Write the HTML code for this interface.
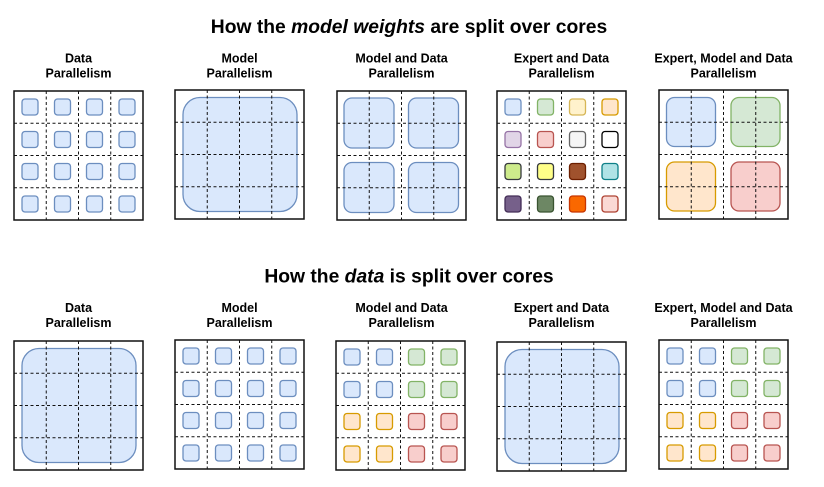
<!DOCTYPE html>
<html><head><meta charset="utf-8"><style>
html,body{margin:0;padding:0;background:#fff;}
svg{display:block;}
text{font-family:"Liberation Sans",Arial,sans-serif;font-weight:bold;fill:#000;}
</style></head><body>
<svg width="824" height="487" viewBox="0 0 824 487" xmlns="http://www.w3.org/2000/svg">
<defs>
<g id="grid">
<g stroke="#111" stroke-width="1" stroke-dasharray="3,2.5" fill="none">
<line x1="32.25" y1="0" x2="32.25" y2="129"/><line x1="64.5" y1="0" x2="64.5" y2="129"/><line x1="96.75" y1="0" x2="96.75" y2="129"/>
<line x1="0" y1="32.25" x2="129" y2="32.25"/><line x1="0" y1="64.5" x2="129" y2="64.5"/><line x1="0" y1="96.75" x2="129" y2="96.75"/>
</g>
<rect x="0" y="0" width="129" height="129" fill="none" stroke="#111" stroke-width="1.5"/>
</g>
<g id="big"><rect x="8" y="7.5" width="114" height="114" rx="17" fill="#dae8fc" stroke="#6c8ebf" stroke-width="1.3"/></g>
<rect id="sq" width="16" height="16" rx="3"/>
<g id="blue16" fill="#dae8fc" stroke="#6c8ebf" stroke-width="1.3">
<use href="#sq" x="8" y="8"/><use href="#sq" x="40.5" y="8"/><use href="#sq" x="72.5" y="8"/><use href="#sq" x="105" y="8"/>
<use href="#sq" x="8" y="40.5"/><use href="#sq" x="40.5" y="40.5"/><use href="#sq" x="72.5" y="40.5"/><use href="#sq" x="105" y="40.5"/>
<use href="#sq" x="8" y="72.5"/><use href="#sq" x="40.5" y="72.5"/><use href="#sq" x="72.5" y="72.5"/><use href="#sq" x="105" y="72.5"/>
<use href="#sq" x="8" y="105"/><use href="#sq" x="40.5" y="105"/><use href="#sq" x="72.5" y="105"/><use href="#sq" x="105" y="105"/>
</g>
<g id="quad16" stroke-width="1.3">
<g fill="#dae8fc" stroke="#6c8ebf"><use href="#sq" x="8" y="8"/><use href="#sq" x="40.5" y="8"/><use href="#sq" x="8" y="40.5"/><use href="#sq" x="40.5" y="40.5"/></g>
<g fill="#d5e8d4" stroke="#82b366"><use href="#sq" x="72.5" y="8"/><use href="#sq" x="105" y="8"/><use href="#sq" x="72.5" y="40.5"/><use href="#sq" x="105" y="40.5"/></g>
<g fill="#ffe6cc" stroke="#d79b00"><use href="#sq" x="8" y="72.5"/><use href="#sq" x="40.5" y="72.5"/><use href="#sq" x="8" y="105"/><use href="#sq" x="40.5" y="105"/></g>
<g fill="#f8cecc" stroke="#b85450"><use href="#sq" x="72.5" y="72.5"/><use href="#sq" x="105" y="72.5"/><use href="#sq" x="72.5" y="105"/><use href="#sq" x="105" y="105"/></g>
</g>
</defs>

<text x="409" y="33" font-size="19.3" text-anchor="middle">How the <tspan font-style="italic">model weights</tspan> are split over cores</text>
<text x="409" y="282.5" font-size="19.3" text-anchor="middle">How the <tspan font-style="italic">data</tspan> is split over cores</text>

<g font-size="12.5" text-anchor="middle">
<text x="78.5" y="62.5">Data</text><text x="78.5" y="77.5">Parallelism</text>
<text x="239.5" y="62.5">Model</text><text x="239.5" y="77.5">Parallelism</text>
<text x="401.5" y="62.5">Model and Data</text><text x="401.5" y="77.5">Parallelism</text>
<text x="561.5" y="62.5">Expert and Data</text><text x="561.5" y="77.5">Parallelism</text>
<text x="723.5" y="62.5">Expert, Model and Data</text><text x="723.5" y="77.5">Parallelism</text>

<text x="78.5" y="312">Data</text><text x="78.5" y="327">Parallelism</text>
<text x="239.5" y="312">Model</text><text x="239.5" y="327">Parallelism</text>
<text x="401.5" y="312">Model and Data</text><text x="401.5" y="327">Parallelism</text>
<text x="561.5" y="312">Expert and Data</text><text x="561.5" y="327">Parallelism</text>
<text x="723.5" y="312">Expert, Model and Data</text><text x="723.5" y="327">Parallelism</text>
</g>

<!-- Top row -->
<g transform="translate(14,91)"><use href="#blue16"/><use href="#grid"/></g>
<g transform="translate(175,90)"><use href="#big"/><use href="#grid"/></g>
<g transform="translate(337,91)">
<g fill="#dae8fc" stroke="#6c8ebf" stroke-width="1.3">
<rect x="7" y="7" width="50" height="50" rx="8"/><rect x="71.5" y="7" width="50" height="50" rx="8"/>
<rect x="7" y="71.5" width="50" height="50" rx="8"/><rect x="71.5" y="71.5" width="50" height="50" rx="8"/>
</g>
<use href="#grid"/></g>
<g transform="translate(497,91)">
<g stroke-width="1.3">
<use href="#sq" x="8" y="8" fill="#dae8fc" stroke="#6c8ebf"/>
<use href="#sq" x="40.5" y="8" fill="#d5e8d4" stroke="#82b366"/>
<use href="#sq" x="72.5" y="8" fill="#fff2cc" stroke="#d6b656"/>
<use href="#sq" x="105" y="8" fill="#ffe6cc" stroke="#d79b00"/>
<use href="#sq" x="8" y="40.5" fill="#e1d5e7" stroke="#9673a6"/>
<use href="#sq" x="40.5" y="40.5" fill="#f8cecc" stroke="#b85450"/>
<use href="#sq" x="72.5" y="40.5" fill="#f5f5f5" stroke="#666666"/>
<use href="#sq" x="105" y="40.5" fill="#ffffff" stroke="#000000"/>
<use href="#sq" x="8" y="72.5" fill="#cdeb8b" stroke="#36393d"/>
<use href="#sq" x="40.5" y="72.5" fill="#ffff88" stroke="#36393d"/>
<use href="#sq" x="72.5" y="72.5" fill="#a0522d" stroke="#6d1f00"/>
<use href="#sq" x="105" y="72.5" fill="#b0e3e6" stroke="#0e8088"/>
<use href="#sq" x="8" y="105" fill="#76608a" stroke="#432d57"/>
<use href="#sq" x="40.5" y="105" fill="#6d8764" stroke="#3a5431"/>
<use href="#sq" x="72.5" y="105" fill="#fa6800" stroke="#c73500"/>
<use href="#sq" x="105" y="105" fill="#fad9d5" stroke="#ae4132"/>
</g>
<use href="#grid"/></g>
<g transform="translate(659,90)">
<g stroke-width="1.3">
<rect x="7.5" y="7.5" width="49" height="49" rx="8" fill="#dae8fc" stroke="#6c8ebf"/>
<rect x="72" y="7.5" width="49" height="49" rx="8" fill="#d5e8d4" stroke="#82b366"/>
<rect x="7.5" y="72" width="49" height="49" rx="8" fill="#ffe6cc" stroke="#d79b00"/>
<rect x="72" y="72" width="49" height="49" rx="8" fill="#f8cecc" stroke="#b85450"/>
</g>
<use href="#grid"/></g>

<!-- Bottom row -->
<g transform="translate(14,341)"><use href="#big"/><use href="#grid"/></g>
<g transform="translate(175,340)"><use href="#blue16"/><use href="#grid"/></g>
<g transform="translate(336,341)"><use href="#quad16"/><use href="#grid"/></g>
<g transform="translate(497,342)"><use href="#big"/><use href="#grid"/></g>
<g transform="translate(659,340)"><use href="#quad16"/><use href="#grid"/></g>
</svg>
</body></html>
